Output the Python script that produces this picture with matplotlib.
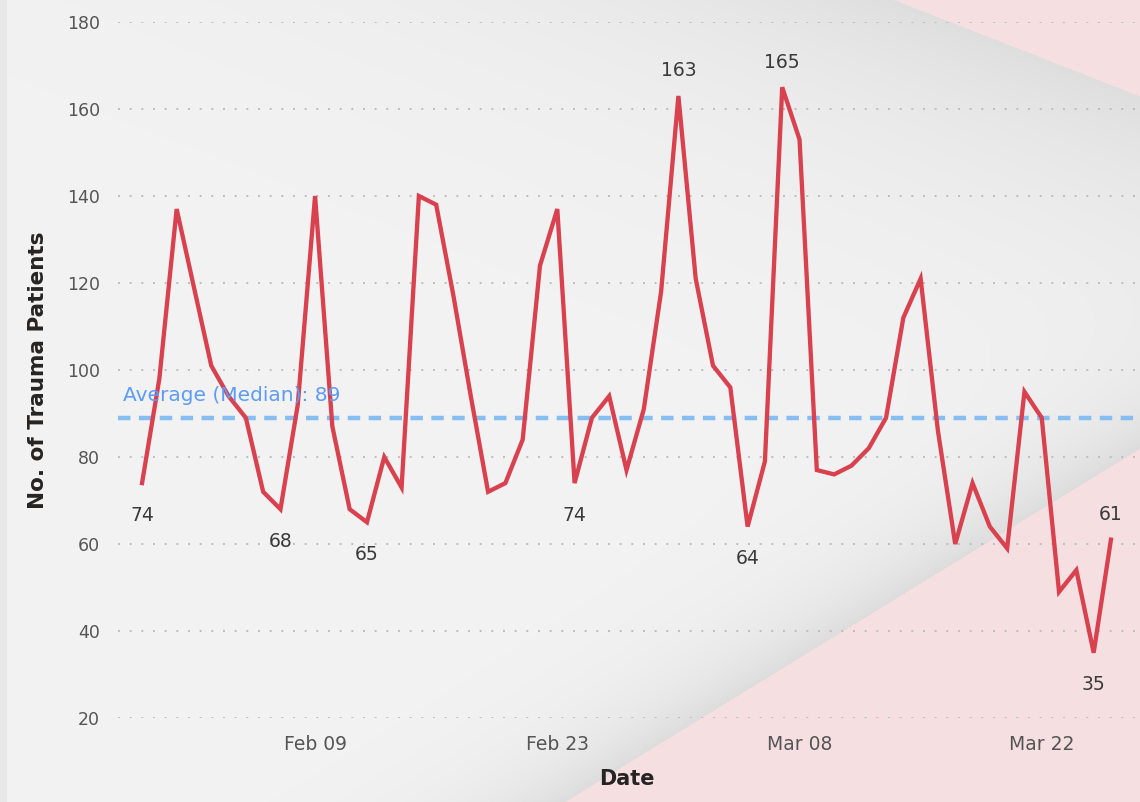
import numpy as np
import pandas as pd
import matplotlib
matplotlib.use("Agg")
import matplotlib.pyplot as plt
import matplotlib.dates as mdates

plt.rcParams['font.family'] = ['DejaVu Sans']

# ---------------- data ----------------
start_date = "2020-01-30"
patients = [74, 98, 137, 119, 101, 94, 89, 72, 68, 92,
            140, 87, 68, 65, 80, 73, 140, 138, 117, 94,
            72, 74, 84, 124, 137, 74, 89, 94, 77, 91,
            118, 163, 121, 101, 96, 64, 79, 165, 153, 77,
            76, 78, 82, 89, 112, 121, 86, 60, 74, 64,
            59, 95, 89, 49, 54, 35, 61]
dates = pd.date_range(start_date, periods=len(patients), freq="D")
median_label = "Average (Median): 89"
tick_dates = pd.to_datetime(["2020-02-09", "2020-02-23", "2020-03-08", "2020-03-22"])
y_ticks = [20, 40, 60, 80, 100, 120, 140, 160, 180]
# indices of labelled points and whether label is above (1) or below (-1)
label_idx = [0, 8, 13, 25, 31, 35, 37, 55, 56]
label_pos = [-1, -1, -1, -1, 1, -1, 1, -1, 1]

W, H = 1140, 802
fig = plt.figure(figsize=(W / 100, H / 100), dpi=100)

# ---------------- background image ----------------
yy, xx = np.mgrid[0:H, 0:W].astype(float)
img = np.ones((H, W, 3)) * np.array([243, 243, 243]) / 255.0
shadow = np.array([217, 217, 217]) / 255.0
pink = np.array([245, 223, 225]) / 255.0

def sdist(x1, y1, x2, y2):
    dx, dy = x2 - x1, y2 - y1
    return ((xx - x1) * dy - (yy - y1) * dx) / np.hypot(dx, dy)

dA = sdist(895, 0, 1140, 96)      # >0 : upper-right pink
dB = -sdist(564, 802, 1140, 448)  # >0 : lower-right pink
for d, L, s in [(dA, 130.0, 0.8), (dB, 50.0, 0.85)]:
    a = np.where(d < 0, s * np.exp(d / L), 0.0)[..., None]
    img = img * (1 - a) + shadow * a
for d in (dA, dB):
    m = (d >= 0)[..., None]
    img = np.where(m, pink, img)
img[:, :7] = np.array([232, 232, 232]) / 255.0

bg = fig.add_axes([0, 0, 1, 1], zorder=0)
bg.imshow(img, aspect="auto", extent=[0, W, H, 0], interpolation="bilinear")
bg.set_axis_off()

# ---------------- main axes ----------------
left_px, right_px, top_px, bot_px = 118, 1135, 22, 718
ax = fig.add_axes([left_px / W, (H - bot_px) / H, (right_px - left_px) / W, (bot_px - top_px) / H], zorder=1)
ax.patch.set_alpha(0)

xnum = mdates.date2num(dates)
ax.set_xlim(xnum[0] - 1.39, xnum[-1] + 1.39)
ax.set_ylim(20, 180)

ax.plot(dates, patients, color="#D9414F", lw=3.1, solid_joinstyle="miter", zorder=3)

med = float(np.median(patients))
ax.axhline(med, color="#86BDF3", lw=3.2, ls=(0, (2.8, 1.9)), zorder=2)
ax.text(0.005, med + 3.0, median_label, transform=ax.get_yaxis_transform(),
        color="#5C9BF7", fontsize=14.5, ha="left", va="bottom")

for i, p in zip(label_idx, label_pos):
    off = 25 if p > 0 else -32
    ax.annotate(str(patients[i]), (dates[i], patients[i]), xytext=(0, off),
                textcoords="offset pixels", ha="center", va="center",
                fontsize=13.5, color="#3A3A3A", zorder=4)

ax.set_yticks(y_ticks)
ax.yaxis.grid(True, color="#BDBDBD", lw=1.4, ls=(0, (1, 5)))
ax.xaxis.grid(False)
ax.set_xticks(tick_dates)
ax.xaxis.set_major_formatter(mdates.DateFormatter("%b %d"))
ax.tick_params(axis="both", length=0, colors="#555555")
ax.tick_params(axis="y", pad=13, labelsize=12.5)
ax.tick_params(axis="x", pad=12, labelsize=13.5)
for s in ax.spines.values():
    s.set_visible(False)

ax.set_ylabel("No. of Trauma Patients", fontsize=15.5, color="#252423", fontweight="bold")
ax.set_xlabel("Date", fontsize=15, color="#252423", fontweight="bold")
ax.yaxis.set_label_coords(-70 / (right_px - left_px), 0.5)
ax.xaxis.set_label_coords(0.5, -(769 - bot_px) / (bot_px - top_px))

fig.savefig("out.png", dpi=100)
